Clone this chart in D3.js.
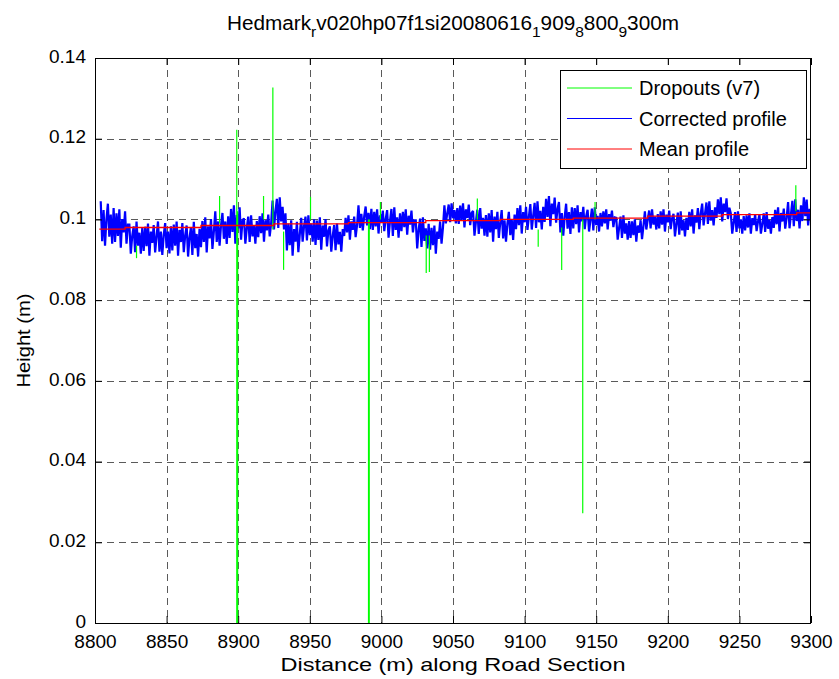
<!DOCTYPE html>
<html><head><meta charset="utf-8">
<script src="https://cdn.jsdelivr.net/npm/d3@7"></script>
<style>
body{margin:0;background:#fff;}
svg text{font-family:"Liberation Sans",Arial,Helvetica,sans-serif;fill:#000;}
</style>
</head><body>
<svg id="chart" width="839" height="679"></svg>
<script>
// ---------------- data ----------------
const xTicks = [8800, 8850, 8900, 8950, 9000, 9050, 9100, 9150, 9200, 9250, 9300];
const yTicks = [0, 0.02, 0.04, 0.06, 0.08, 0.1, 0.12, 0.14];
const yTickLabels = ["0", "0.02", "0.04", "0.06", "0.08", "0.1", "0.12", "0.14"];

// corrected profile heights in mm, one sample per metre from 8804 m
const profileStart = 8804;
const profileStep = 1;
const profileMm = [
  104.5,94.6,102.3,93.5,100.1,103.9,95.7,101.2,94.0,102.8,
  94.4,101.5,95.9,102.5,93.0,100.1,96.8,102.0,94.0,98.7,
  98.7,91.5,95.9,98.3,91.9,99.5,93.5,96.7,91.5,97.9,
  92.2,98.2,93.4,99.0,91.0,97.0,94.2,98.6,91.8,95.8,
  99.5,92.0,97.0,91.2,96.2,99.1,92.9,97.0,91.6,98.3,
  92.3,98.7,93.5,99.5,91.0,97.4,94.4,99.1,91.9,96.1,
  98.5,90.8,95.5,98.1,91.2,99.4,92.9,96.4,90.8,97.7,
  93.1,99.6,94.4,100.5,91.8,98.3,95.3,100.1,92.7,97.0,
  102.0,94.4,99.5,93.5,98.6,101.6,95.2,99.5,93.9,100.8,
  95.4,102.6,96.9,103.5,94.0,101.1,97.8,103.0,95.0,99.7,
  100.3,94.0,97.9,100.7,94.4,101.0,95.8,98.6,94.0,99.6,
  95.6,100.8,96.6,101.5,94.5,99.8,97.3,101.2,95.8,99.0,
  104.7,97.5,102.0,105.1,97.9,105.5,99.5,103.1,97.5,101.5,
  92.3,99.0,93.6,99.8,91.0,97.6,94.5,99.4,91.9,96.3,
  100.4,94.5,98.4,100.7,94.8,101.0,96.1,99.0,94.5,100.0,
  93.7,99.7,94.9,100.5,92.5,98.5,95.7,100.1,93.3,97.3,
  98.3,92.0,95.9,98.6,92.4,99.0,93.8,96.9,92.0,97.6,
  95.9,100.4,96.8,101.0,95.0,99.5,97.4,100.7,95.6,98.6,
  103.5,97.9,101.4,97.3,100.8,103.2,98.5,101.6,97.6,102.6,
  97.4,101.9,98.3,102.5,96.5,101.0,99.2,102.2,97.1,100.1,
  102.3,95.5,99.6,102.6,95.9,103.0,97.4,100.5,95.5,101.5,
  97.1,101.9,98.1,102.5,96.2,100.9,98.7,102.2,96.8,99.8,
  99.8,92.8,97.4,100.2,93.2,100.5,94.7,97.8,92.8,98.9,
  92.5,97.9,93.6,98.5,91.5,97.0,95.2,99.5,94.0,98.0,
  103.5,99.0,101.5,103.7,99.3,104.0,100.3,102.3,99.0,102.8,
  98.9,103.4,99.8,104.0,98.0,102.5,100.4,103.7,98.6,101.6,
  102.1,96.0,99.4,102.4,96.4,102.8,97.7,100.4,96.0,101.1,
  95.7,101.5,96.8,102.3,94.5,100.7,97.6,101.9,95.4,99.2,
  102.3,95.3,99.8,94.5,99.0,101.9,96.1,100.1,94.9,101.2,
  97.6,102.8,98.6,103.5,96.5,101.8,99.3,103.1,97.4,100.7,
  103.8,97.5,100.9,104.1,97.9,104.5,99.3,102.1,97.5,103.1,
  99.4,105.1,100.6,105.8,98.3,103.9,101.3,105.4,99.2,102.6,
  104.3,96.8,101.6,96.0,100.7,103.9,97.7,101.8,96.4,103.0,
  97.8,102.8,98.8,103.5,96.8,101.8,99.5,103.1,97.6,100.8,
  102.4,97.0,99.9,102.7,97.3,103.0,98.6,100.9,97.0,101.6,
  98.3,102.0,99.0,102.5,97.5,101.3,99.7,102.2,98.1,100.5,
  100.4,95.0,97.9,100.7,95.4,101.0,96.5,99.0,95.0,99.6,
  95.4,99.5,96.1,100.0,94.5,98.5,96.7,99.8,95.1,98.4,
  102.0,97.5,100.0,102.2,97.8,102.5,98.7,100.7,97.5,101.3,
  97.8,102.0,98.7,102.5,97.0,101.2,99.3,102.2,97.6,100.3,
  101.4,95.8,98.9,101.7,96.2,102.0,97.3,99.8,95.8,100.4,
  97.4,101.9,98.3,102.5,96.5,101.0,99.2,102.8,97.6,101.5,
  103.9,98.5,101.5,104.2,98.9,104.5,99.7,102.3,98.5,103.0,
  100.4,105.0,101.3,105.5,99.5,103.9,101.8,105.2,100.1,102.9,
  101.5,96.5,99.2,101.8,96.9,102.0,97.8,100.0,96.5,100.8,
  97.3,101.0,98.0,101.5,96.5,100.3,98.6,101.3,97.1,99.5,
  101.2,96.5,98.9,101.5,96.9,101.8,97.7,99.9,96.5,100.6,
  97.9,102.4,98.8,103.0,97.0,101.6,99.5,102.7,97.7,100.5,
  104.3,97.8,101.3,104.6,98.3,105.0,99.6,102.4,97.8,103.5,
  99.6,105.5,100.8,104.9,98.5,102.6,100.0
];

// mean profile (stepwise), metres
const meanDist   = [8803, 8821, 8874, 8925, 8977, 9031, 9083, 9134, 9186, 9238, 9290, 9300];
const meanValues = [0.0976, 0.0980, 0.0985, 0.0989, 0.0992, 0.0997, 0.1000, 0.1003, 0.1008, 0.1012, 0.1016, 0.1016];

// dropouts (v7): vertical spikes, metres
const dropDist = [8829, 8887, 8899, 8899.6, 8917.7, 8924.2, 8931.7, 8950.5, 8991, 8991.5, 8999.3, 9031.3, 9033.5, 9067, 9109.5, 9125.9, 9140.6, 9149.2, 9289.4];
const dropFrom = [0.0935, 0.0990, 0.1222, 0.1020, 0.1000, 0.0975, 0.0970, 0.1000, 0.1000, 0.1000, 0.1000, 0.0960, 0.0960, 0.1000, 0.0975, 0.0980, 0.1000, 0.1000, 0.1020];
const dropTo   = [0.0904, 0.1058, 0.0,    0.0,    0.1058, 0.1327, 0.0875, 0.1056, 0.0,    0.0,    0.1043, 0.0867, 0.0870, 0.1052, 0.0932, 0.0875, 0.0272, 0.1043, 0.1085];

const seriesNames  = ["Dropouts (v7)", "Corrected profile", "Mean profile"];
const seriesColors = ["#00ff00", "#0000ff", "#ff0000"];

const titleParts = [
  {t: "Hedmark", sub: false}, {t: "r", sub: true},
  {t: "v020hp07f1si20080616", sub: false}, {t: "1", sub: true},
  {t: "909", sub: false}, {t: "8", sub: true},
  {t: "800", sub: false}, {t: "9", sub: true},
  {t: "300m", sub: false}
];
const xLabel = "Distance (m) along Road Section";
const yLabel = "Height (m)";

// ---------------- layout ----------------
const svg = d3.select("#chart");
const L = 95, R = 811, T = 58, B = 623;
const x = d3.scaleLinear().domain([8800, 9300]).range([L, R]);
const y = d3.scaleLinear().domain([0, 0.14]).range([B, T]);
const FS = 19;

svg.append("rect").attr("width", 839).attr("height", 679).attr("fill", "#fff");

// grid
const grid = svg.append("g").attr("stroke", "#5a5a5a").attr("stroke-width", 1).attr("stroke-dasharray", "7,5");
grid.selectAll(".gx").data(xTicks.slice(1, -1)).join("line")
  .attr("x1", d => Math.round(x(d)) + 0.5).attr("x2", d => Math.round(x(d)) + 0.5)
  .attr("y1", T).attr("y2", B);
grid.selectAll(".gy").data(yTicks.slice(1, -1)).join("line")
  .attr("y1", d => Math.round(y(d)) + 0.5).attr("y2", d => Math.round(y(d)) + 0.5)
  .attr("x1", L).attr("x2", R);

// clip
svg.append("clipPath").attr("id", "clip").append("rect")
  .attr("x", L).attr("y", T).attr("width", R - L).attr("height", B - T + 1);
const plot = svg.append("g").attr("clip-path", "url(#clip)");

// corrected profile
const profile = profileMm.map((v, i) => [profileStart + i * profileStep, v / 1000]);
const line = d3.line().x(d => x(d[0])).y(d => y(d[1]));
plot.append("path").datum(profile).attr("d", line)
  .attr("fill", "none").attr("stroke", seriesColors[1]).attr("stroke-width", 2.2)
  .attr("stroke-linejoin", "miter").attr("stroke-miterlimit", 2);

// dropouts
plot.selectAll(".drop").data(dropDist.map((d, i) => [[d, dropFrom[i]], [d, dropTo[i]]]))
  .join("path").attr("d", line)
  .attr("fill", "none").attr("stroke", seriesColors[0]).attr("stroke-width", 1.2);

// mean profile
const mean = meanDist.map((d, i) => [d, meanValues[i]]);
plot.append("path").datum(mean).attr("d", d3.line().x(d => x(d[0])).y(d => y(d[1])).curve(d3.curveStepAfter))
  .attr("fill", "none").attr("stroke", seriesColors[2]).attr("stroke-width", 1.3);

// axes (ticks inside, MATLAB style)
const axB = d3.axisBottom(x).tickValues(xTicks).tickSize(-7).tickPadding(12).tickFormat(d => String(d));
const axT = d3.axisTop(x).tickValues(xTicks).tickSize(-7).tickFormat("");
const axL = d3.axisLeft(y).tickValues(yTicks).tickSize(-7).tickPadding(9).tickFormat((d, i) => yTickLabels[i]);
const axR = d3.axisRight(y).tickValues(yTicks).tickSize(-7).tickFormat("");
function style(g) {
  g.select(".domain").remove();
  g.selectAll("line").attr("stroke", "#000");
  g.selectAll("text").attr("font-size", FS).attr("font-family", "Liberation Sans, Arial, sans-serif").attr("fill", "#000");
}
svg.append("g").attr("transform", `translate(0,${B})`).call(axB).call(style);
svg.append("g").attr("transform", `translate(0,${T})`).call(axT).call(style);
svg.append("g").attr("transform", `translate(${L},0)`).call(axL).call(style)
  .selectAll("text").attr("dy", "0.22em");
svg.append("g").attr("transform", `translate(${R},0)`).call(axR).call(style);

// frame
svg.append("rect").attr("x", L + 0.5).attr("y", T + 0.5).attr("width", R - L - 1).attr("height", B - T)
  .attr("fill", "none").attr("stroke", "#000").attr("stroke-width", 1);

// title
const title = svg.append("text").attr("x", (L + R) / 2).attr("y", 30)
  .attr("text-anchor", "middle").attr("font-size", 20)
  .attr("textLength", 452).attr("lengthAdjust", "spacingAndGlyphs");
titleParts.forEach((p, i) => {
  const prevSub = i > 0 && titleParts[i - 1].sub;
  const ts = title.append("tspan").text(p.t);
  if (p.sub) ts.attr("dy", 7).attr("font-size", 15);
  else if (prevSub) ts.attr("dy", -7);
});

// axis labels
svg.append("text").attr("x", (L + R) / 2).attr("y", 671).attr("text-anchor", "middle")
  .attr("font-size", FS).attr("textLength", 345).attr("lengthAdjust", "spacingAndGlyphs").text(xLabel);
svg.append("text").attr("transform", `translate(30,${(T + B) / 2}) rotate(-90)`)
  .attr("text-anchor", "middle").attr("font-size", FS).attr("textLength", 94)
  .attr("lengthAdjust", "spacingAndGlyphs").text(yLabel);

// legend
const lg = svg.append("g");
lg.append("rect").attr("x", 560.5).attr("y", 70.5).attr("width", 246).attr("height", 98)
  .attr("fill", "#fff").attr("stroke", "#000");
seriesNames.forEach((n, i) => {
  const yy = 88 + i * 30.5;
  lg.append("line").attr("x1", 567).attr("x2", 632).attr("y1", yy).attr("y2", yy)
    .attr("stroke", seriesColors[i]).attr("stroke-width", 1);
  lg.append("text").attr("x", 639).attr("y", yy).attr("dy", "0.35em").attr("font-size", 20).text(n);
});
</script>
</body></html>
